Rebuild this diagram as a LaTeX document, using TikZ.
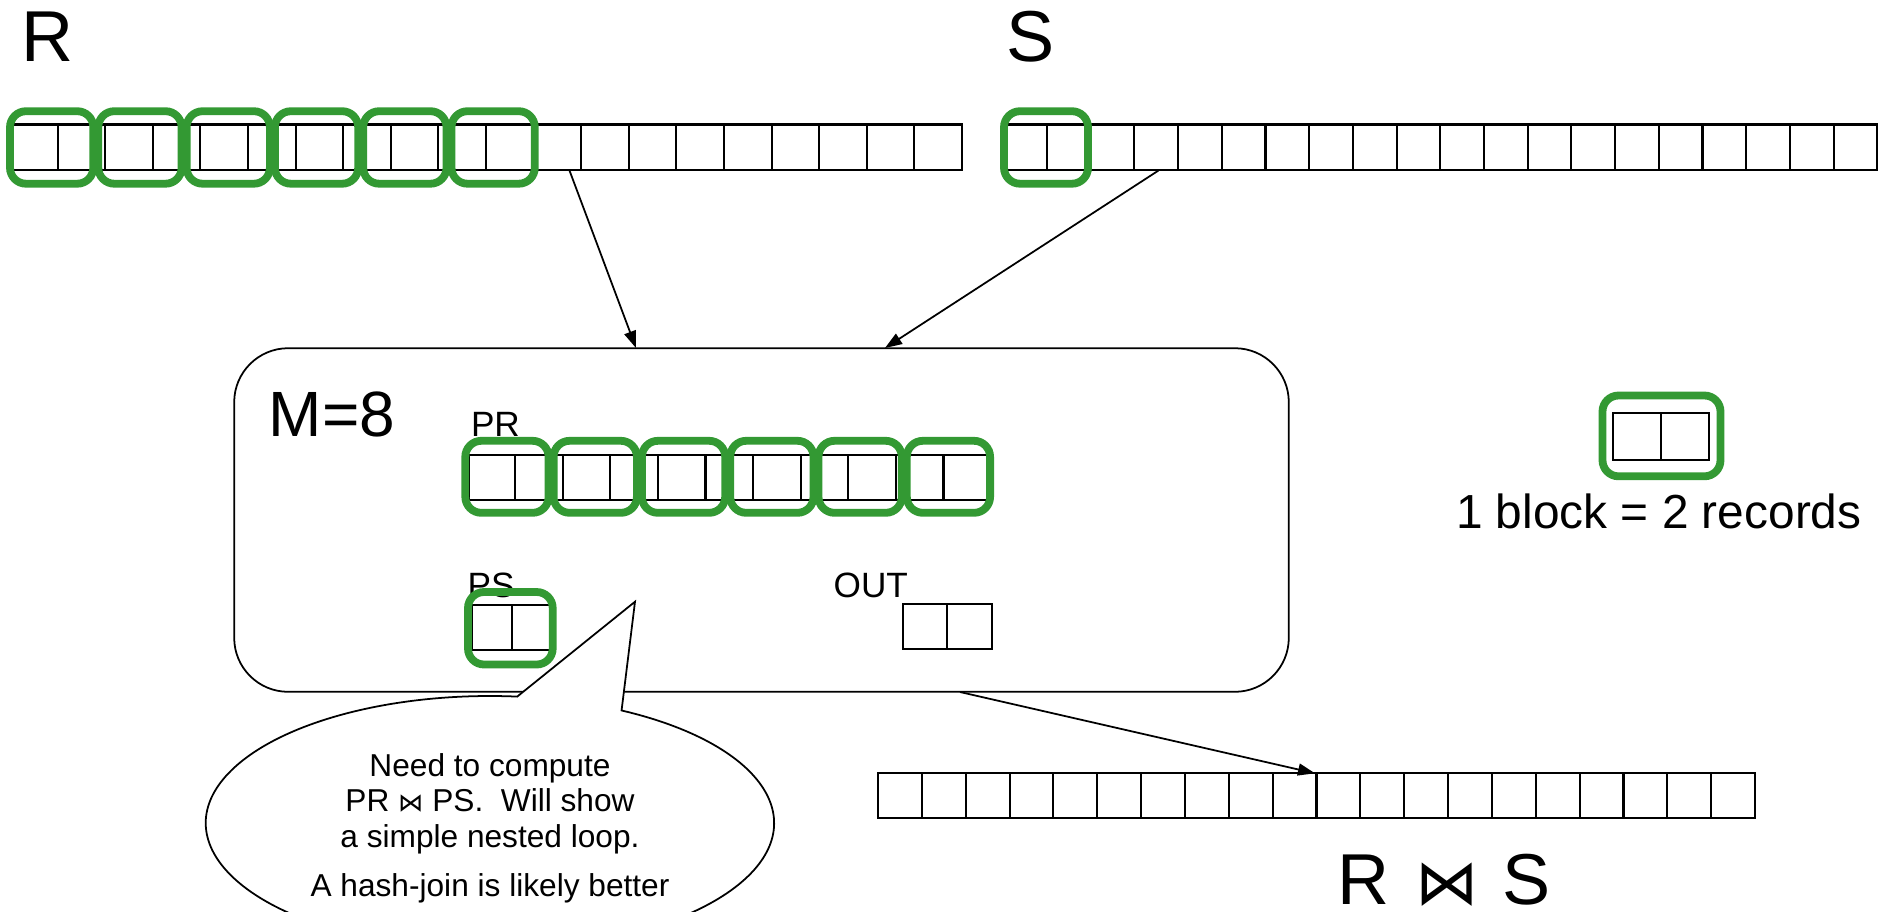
\documentclass[tikz,border=0pt]{standalone}
\usepackage{fontspec}
\setmainfont{Liberation Sans}
\newfontfamily\symfont{DejaVu Sans}
\usetikzlibrary{arrows.meta}
\definecolor{blockgreen}{RGB}{51,153,51}

\begin{document}
\begin{tikzpicture}[x=0.01cm, y=-0.01cm,
  cell/.style={line width=0.6pt},
  blk/.style={draw=blockgreen, line width=0.078cm, rounded corners=0.16cm},
  link/.style={line width=0.5pt, -{Triangle[length=0.17cm, width=0.12cm]}},
  lbl/.style={inner sep=0pt, anchor=base west},
  huge/.style={font=\fontsize{20.5}{24}\selectfont},
  large/.style={font=\fontsize{18.2}{22}\selectfont},
  small/.style={font=\fontsize{10}{12}\selectfont},
  legend/.style={font=\fontsize{13.6}{16}\selectfont},
  bubtext/.style={inner sep=0pt, anchor=base, font=\fontsize{9}{10}\selectfont}]
\useasboundingbox (0,0) rectangle (1878,911);

% ---- relation R on disk: 20 records, first 6 blocks marked ----
\node[lbl, huge] (rname) at (21,61.7) {R};
\draw[cell] (13,124.5) rectangle (962,170);
\foreach \k in {1,...,19} \draw[cell] ({10+47.6*\k},124.5) -- ++(0,45.5);
\foreach \i in {0,...,5} \draw[blk] ({10+88.3*\i},111.2) rectangle ++(83.3,72.5);

% ---- relation S on disk ----
\node[lbl, huge] (sname) at (1006,61.7) {S};
\draw[cell] (1007,124.5) rectangle (1877.3,170);
\foreach \k in {1,...,19} \draw[cell] ({1003.3+43.7*\k},124.5) -- ++(0,45.5);
\draw[blk] (1004,111.2) rectangle ++(84,72.5);

% ---- main memory ----
\node[draw, line width=0.5pt, rounded corners=0.54cm, minimum width=10.54cm,
      minimum height=3.434cm, inner sep=0pt] (mem) at (761.5,520) {};
\node[lbl, large] (mlabel) at (268,436.7) {M=8};

% buffer pages for R
\node[lbl, small] (prname) at (470.3,436.7) {PR};
\draw[cell] (469.3,455) rectangle (991.1,500);
\foreach \k in {1,...,10} \draw[cell] ({467.5+47.6*\k},455) -- ++(0,45);
\foreach \i in {0,...,5} \draw[blk] ({465.3+88.3*\i},440.8) rectangle ++(83.3,72);

% buffer page for S
\node[lbl, small] (psname) at (467,597.5) {PS};
\draw[cell] (471.7,605) rectangle (551,650);
\draw[cell] (511.7,605) -- (511.7,650);
\draw[blk] (468,592) rectangle (552.7,664.5);

% output buffer
\node[lbl, small] (outname) at (833,597.3) {OUT};
\draw[cell] (903.3,604) rectangle (991.7,649.3);
\draw[cell] (947.3,604) -- (947.3,649.3);

% ---- legend ----
\draw[cell] (1613.3,413.3) rectangle (1709.3,460);
\draw[cell] (1661,413.3) -- (1661,460);
\draw[blk] (1602.5,395.5) rectangle (1720.5,476.3);
\node[inner sep=0pt, anchor=base, legend] (legendtext) at (1658.8,528.5) {1 block = 2 records};

% ---- result R join S ----
\draw[cell] (878,773.3) rectangle (1755,818.3);
\foreach \k in {1,...,19} \draw[cell] ({878+43.85*\k},773.3) -- ++(0,45);
\node[lbl, huge] (joinname) at (1336.5,904) {R\hspace{0.36em}{\symfont\fontsize{18}{20}\selectfont ⋈}\hspace{0.33em}S};

% ---- data flow ----
\coordinate (rtap) at (569.5,170.5);
\coordinate (stap) at (1158.5,170.5);
\coordinate (memr) at (636,348);
\coordinate (mems) at (885,348);
\coordinate (memout) at (960,692);
\coordinate (resin) at (1315,773.3);
\draw[link] (rtap) -- (memr);
\draw[link] (stap) -- (mems);
\draw[link] (memout) -- (resin);

% ---- speech bubble ----
\begin{scope}[shift={(490,823)}, y=0.01cm]
  \coordinate (tipp) at (145,221.3);
  \filldraw[fill=white, draw=black, line width=0.5pt]
    ({284*cos(84.5)},{127*sin(84.5)}) -- (tipp) -- ({284*cos(62.4)},{127*sin(62.4)})
    arc[start angle=62.4, end angle=-275.5, x radius=2.84cm, y radius=1.27cm] -- cycle;
\end{scope}
\node[bubtext] (note1) at (490,776.7) {Need to compute};
\node[bubtext] (note2) at (490,811.7) {PR {\symfont\fontsize{7.2}{10}\selectfont ⋈} PS.\ \ Will show};
\node[bubtext] (note3) at (490,847) {a simple nested loop.};
\node[bubtext] (note4) at (490,896.7) {A hash-join is likely better};
\end{tikzpicture}
\end{document}
